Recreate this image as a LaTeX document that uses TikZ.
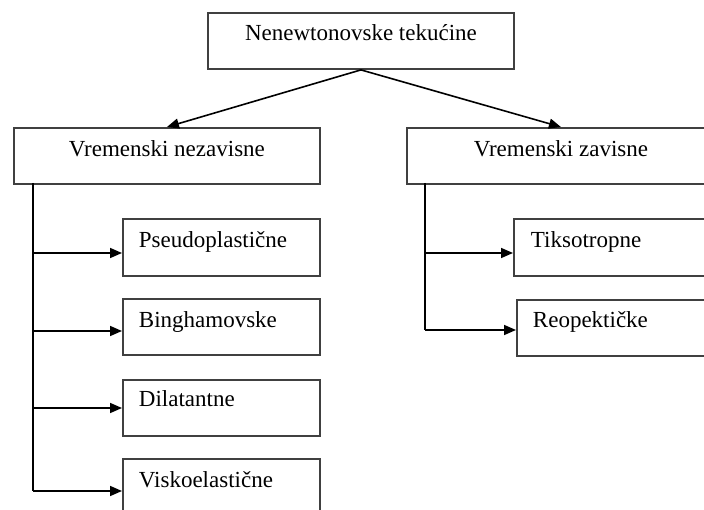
\documentclass[tikz,border=0pt]{standalone}
\usepackage{fontspec}
\setmainfont{Liberation Serif}
\usetikzlibrary{arrows.meta}
\tikzset{
  box/.style={draw=black!75, line width=1.9pt, inner sep=0pt, anchor=north west,
    font=\fontsize{23}{27}\selectfont},
  bigbox/.style={box, text height=28pt, text depth=28pt},
  leafbox/.style={box, inner xsep=16pt, align=left, text height=29pt, text depth=28pt},
  conn/.style={draw=black, line width=1.6pt},
  arr/.style={conn, -{Triangle[length=12pt,width=10pt]}}
}
\begin{document}
\begin{tikzpicture}[x=1pt,y=-1pt]
\useasboundingbox (0,0) rectangle (704,510);
\clip (0,0) rectangle (704,510);
% top
\node[bigbox, minimum width=306pt] (top) at (207,12) {Nenewtonovske tekućine};
% middle level
\node[bigbox, minimum width=306pt, text height=29pt, text depth=27pt] (lm) at (13,127) {Vremenski nezavisne};
\node[bigbox, minimum width=308pt, text height=29pt, text depth=27pt] (rm) at (406,127) {Vremenski zavisne};
% left leaves
\node[leafbox, text width=165pt] (p1) at (122,218) {Pseudoplastične};
\node[leafbox, text width=165pt, text depth=27pt] (p2) at (122,298) {Binghamovske};
\node[leafbox, text width=165pt, text height=27pt, text depth=29pt] (p3) at (122,379) {Dilatantne};
\node[leafbox, text width=165pt, text depth=40pt] (p4) at (122,458) {Viskoelastične};
% right leaves
\node[leafbox, inner xsep=17pt, text width=260pt] (q1) at (513,218) {Tiksotropne};
\node[leafbox, inner xsep=16pt, text width=260pt, text height=28pt] (q2) at (516,299) {Reopektičke};
% top arrows
\draw[arr] (top.south) -- (lm.north);
\draw[arr] (top.south) -- (rm.north);
% left trunk
\coordinate (l0) at (33,183);
\coordinate (l1) at (33,253);
\coordinate (l2) at (33,331);
\coordinate (l3) at (33,408);
\coordinate (l4) at (33,491);
\draw[conn] (l0) -- (l4);
\draw[arr] (l1) -- (l1 -| p1.west);
\draw[arr] (l2) -- (l2 -| p2.west);
\draw[arr] (l3) -- (l3 -| p3.west);
\draw[arr] (l4) -- (l4 -| p4.west);
% right trunk
\coordinate (r0) at (425,183);
\coordinate (r1) at (425,253);
\coordinate (r2) at (425,330);
\draw[conn] (r0) -- (r2);
\draw[arr] (r1) -- (r1 -| q1.west);
\draw[arr] (r2) -- (r2 -| q2.west);
\end{tikzpicture}
\end{document}
